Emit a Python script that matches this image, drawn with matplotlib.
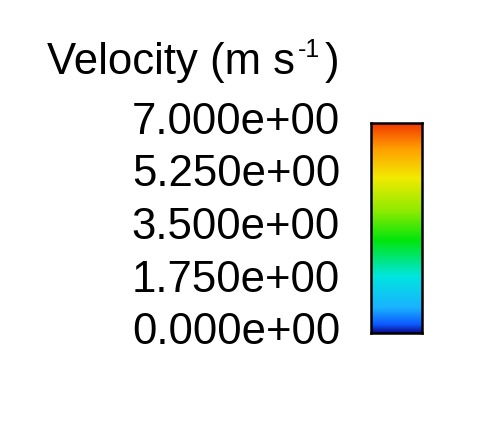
import numpy as np
import matplotlib
matplotlib.use("Agg")
import matplotlib.pyplot as plt
import matplotlib.transforms as mtransforms
from matplotlib.colors import LinearSegmentedColormap

plt.rcParams['font.family'] = ['Liberation Sans', 'DejaVu Sans']

title_main = 'Velocity (m s'
title_sup = '-1'
title_end = ')'
vmin, vmax = 0.0, 7.0
tick_values = [0.0, 1.75, 3.5, 5.25, 7.0]
tick_labels = ['0.000e+00', '1.750e+00', '3.500e+00', '5.250e+00', '7.000e+00']

cmap = LinearSegmentedColormap.from_list('fluent', [
    (0.00, (0.05, 0.05, 0.55)),
    (0.04, (0.05, 0.35, 1.00)),
    (0.12, (0.10, 0.70, 1.00)),
    (0.27, (0.00, 0.90, 0.88)),
    (0.44, (0.00, 0.90, 0.05)),
    (0.58, (0.55, 0.92, 0.00)),
    (0.74, (0.95, 0.92, 0.00)),
    (0.88, (1.00, 0.62, 0.00)),
    (1.00, (0.95, 0.22, 0.00)),
])

W, H = 490, 426
fig = plt.figure(figsize=(W / 100, H / 100), dpi=100)
cax = fig.add_axes([371 / W, (H - 333) / H, 51 / W, 210 / H])
grad = np.linspace(vmin, vmax, 256).reshape(-1, 1)
cax.imshow(grad, aspect='auto', cmap=cmap, origin='lower',
           extent=[0, 1, vmin, vmax], vmin=vmin, vmax=vmax)
cax.set_xticks([])
cax.set_yticks([])
cax.set_ylim(vmin, vmax)
for s in cax.spines.values():
    s.set_linewidth(1.8)
    s.set_color('black')

# tick labels placed next to the bar
off = mtransforms.ScaledTranslation(-31 / 100, 0.5 / 100, fig.dpi_scale_trans)
trans = mtransforms.blended_transform_factory(cax.transAxes, cax.transData) + off
for v, lab in zip(tick_values, tick_labels):
    cax.text(0, v, lab, transform=trans, ha='right', va='center',
             fontsize=31.5, clip_on=False)

# title with plain hyphen superscript
fig.canvas.draw()
r = fig.canvas.get_renderer()
ybase = 1 - 74 / H
t1 = fig.text(47 / W, ybase, title_main, fontsize=31.5, ha='left', va='baseline')
bb = t1.get_window_extent(r)
t2 = fig.text((bb.x1 + 3) / W, ybase + 17 / H, title_sup, fontsize=18,
              ha='left', va='baseline')
bb2 = t2.get_window_extent(r)
fig.text((bb2.x1 + 4) / W, ybase, title_end, fontsize=31.5, ha='left', va='baseline')

fig.savefig('out.png', dpi=100)
